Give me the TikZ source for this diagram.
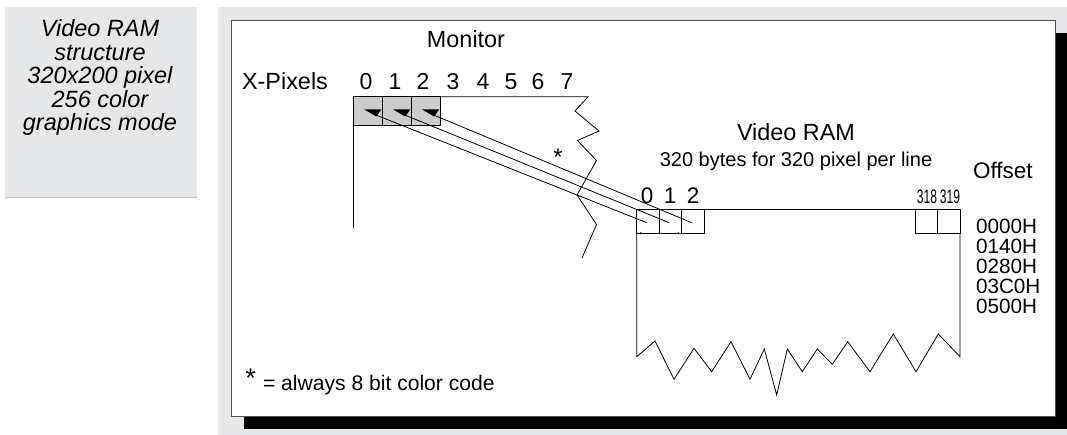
\documentclass[tikz,border=0pt]{standalone}
\usepackage{fontspec}
\setmainfont{Liberation Sans}
\usepackage{graphicx}
\definecolor{bggray}{HTML}{E6E7E9}
\definecolor{cellgray}{HTML}{CCCCCC}
\definecolor{framegray}{HTML}{505050}
\newcommand{\hs}[2]{\scalebox{#1}[1]{#2}}
\newcommand{\fs}[1]{\fontsize{#1}{#1}\selectfont}
\begin{document}
\begin{tikzpicture}[x=1pt,y=-1pt,line join=miter,
  thin line/.style={line width=0.8pt},
  txt/.style={inner sep=0pt,outer sep=0pt,anchor=base},
  ltxt/.style={inner sep=0pt,outer sep=0pt,anchor=base west},
  lefttxt/.style={txt,font=\itshape\fs{23.5}},
  mcell/.style={draw,fill=cellgray,thin line,minimum width=28.9pt,minimum height=28.3pt,inner sep=0pt,outer sep=0pt,anchor=north west},
  rcell/.style={draw,thin line,minimum width=22.5pt,minimum height=24pt,inner sep=0pt,outer sep=0pt,anchor=north west}]
\useasboundingbox (0,0) rectangle (1067,435);
% backgrounds
\fill[bggray] (5,7) rectangle (197,197);
\draw[black!22,line width=0.8pt] (5,197) -- (197,197);
\fill[bggray] (218,7) rectangle (1067,435);
\fill[black] (244,33) rectangle (1067,429);
\filldraw[fill=white,draw=framegray,line width=0.8pt] (231,20) rectangle (1055,416);
% left caption
\node[lefttxt] (l1) at (100,36.7) {Video RAM};
\node[lefttxt] (l2) at (100,60.2) {structure};
\node[lefttxt] (l3) at (100,83.7) {320x200 pixel};
\node[lefttxt] (l4) at (100,107.2) {256 color};
\node[lefttxt] (l5) at (100,130.7) {graphics mode};
% monitor labels
\node[txt,font=\fs{23.4}] (mon) at (466,47.5) {Monitor};
\node[txt,font=\fs{23.4}] (xpix) at (285,89.5) {X-Pixels};
\foreach \d/\x in {0/366,1/395,2/423,3/453,4/483,5/511,6/538,7/567}
  \node[txt,font=\fs{23}] (px\d) at (\x,89.5) {\d};
% monitor cells
\node[mcell] (m0) at (353.3,96.7) {};
\node[mcell] (m1) at (382.2,96.7) {};
\node[mcell] (m2) at (411.1,96.7) {};
\foreach \i in {0,1,2}{
  \fill ([shift={(11,12.8)}]m\i.north west) -- ([shift={(28,12.8)}]m\i.north west)
        -- ([shift={(23,19.8)}]m\i.north west) -- cycle;
  \coordinate (a\i) at ([shift={(23,18.5)}]m\i.north west);
}
% monitor outline
\draw[thin line] (m2.north east) -- (588,96.7) -- (575,111) -- (599,131) -- (577.5,140.5)
  -- (596.5,160.5) -- (577,195) -- (596.5,224.5) -- (582,258);
\draw[thin line] (m0.south west) -- (353.3,228);
% video RAM labels
\node[txt,font=\fs{23.4}] (vram) at (796,141) {Video RAM};
\node[txt,font=\fs{20}] (vsub) at (796,167) {320 bytes for 320 pixel per line};
\node[ltxt,font=\fs{22.5}] (offs) at (973,178.5) {Offset};
% RAM cells
\node[rcell] (r0) at (636.7,209.3) {};
\node[rcell] (r1) at (659.2,209.3) {};
\node[rcell] (r2) at (681.7,209.3) {};
\node[rcell] (r318) at (915,209.3) {};
\node[rcell] (r319) at (937.5,209.3) {};
\foreach \i in {0,1,2}
  \coordinate (b\i) at ([shift={(10,13.4)}]r\i.north west);
% RAM outline
\draw[thin line] (r2.north east) -- (r318.north west);
\draw[thin line] (r0.south west) -- (636.7,356.7) -- (655,341) -- (674,379.3) -- (694,348.3)
  -- (711.7,371.7) -- (731,341.7) -- (750,379.3) -- (764.3,349) -- (776.7,395)
  -- (787.3,349) -- (802.3,371.7) -- (817.3,349) -- (832.3,364.3) -- (847.7,341.7)
  -- (870,371.7) -- (893.3,334) -- (916,371.7) -- (938.3,334) -- (960,356.7) -- (r319.south east);
% small marks at cell bottoms
\fill (640.7,233.3) circle (1.2);
\fill (659.3,233.3) circle (1.2);
\fill (678.3,233.3) circle (1.2);
% connectors
\draw[thin line] (a0) -- (b0);
\draw[thin line] (a1) -- (b1);
\draw[thin line] (a2) -- (b2);
% RAM index labels
\node[txt,font=\fs{22.5}] (i0) at (647,204) {0};
\node[txt,font=\fs{22.5}] (i1) at (670,204) {1};
\node[txt,font=\fs{22.5}] (i2) at (693,204) {2};
\node[txt,font=\fs{19.5}] (i318) at (927,203.3) {\hs{0.62}{318}};
\node[txt,font=\fs{19.5}] (i319) at (950,203.3) {\hs{0.62}{319}};
% offsets
\node[ltxt,font=\fs{20.7}] (o0) at (976,233.5) {0000H};
\node[ltxt,font=\fs{20.7}] (o1) at (976,253.5) {0140H};
\node[ltxt,font=\fs{20.7}] (o2) at (976,273.5) {0280H};
\node[ltxt,font=\fs{20.7}] (o3) at (976,293.5) {03C0H};
\node[ltxt,font=\fs{20.7}] (o4) at (976,313.5) {0500H};
% asterisks
\node[txt,font=\fs{24}] (star) at (558,166) {*};
\node[txt,font=\fs{27}] (fstar) at (250.7,387.5) {*};
\node[ltxt,font=\fs{21.1}] (foot) at (263,390) {= always 8 bit color code};
\end{tikzpicture}
\end{document}
